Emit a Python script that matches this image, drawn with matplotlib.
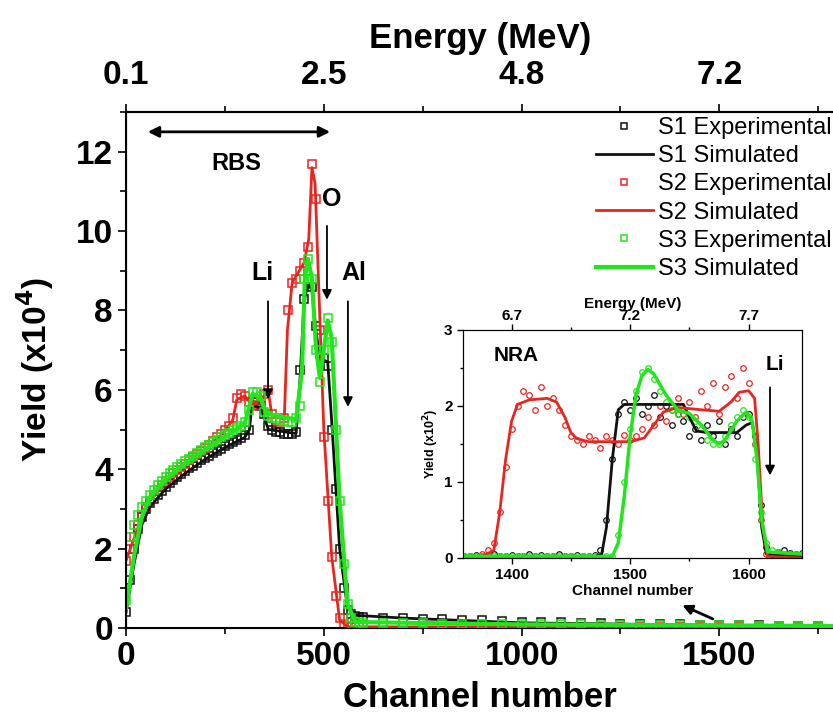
import numpy as np
import matplotlib
matplotlib.use("Agg")
import matplotlib.pyplot as plt
from matplotlib.ticker import MultipleLocator

plt.rcParams['font.family'] = ['Liberation Sans', 'DejaVu Sans']

# ---- main spectrum (RBS), yield in units of 1e4 ----
ch_main = np.concatenate([np.arange(0, 601, 10), np.arange(650, 1801, 50)])

s1_exp = [0.4, 1.2, 2.0, 2.5, 2.8, 3.0, 3.15, 3.25, 3.35, 3.45,
          3.55, 3.65, 3.72, 3.8, 3.88, 3.95, 4.02, 4.08, 4.15, 4.22,
          4.28, 4.34, 4.4, 4.46, 4.52, 4.58, 4.63, 4.68, 4.73, 4.78,
          4.85, 5.0, 5.7, 5.75, 5.6, 5.4, 5.1, 5.0, 4.95, 4.93,
          4.9, 4.88, 4.88, 4.95, 6.5, 8.3, 8.8, 8.6, 7.6, 6.9,
          6.8, 6.6, 5.0, 3.5, 2.0, 1.0, 0.45, 0.35, 0.3, 0.28,
          0.27,
          0.26, 0.25, 0.23, 0.22, 0.2, 0.19, 0.18, 0.16, 0.15, 0.14, 0.13, 0.12,
          0.11, 0.1, 0.1, 0.09, 0.08, 0.08, 0.07, 0.07, 0.06, 0.06, 0.05, 0.05]
s2_exp = [1.7, 2.0, 2.3, 2.6, 2.85, 3.05, 3.2, 3.35, 3.48, 3.6,
          3.7, 3.8, 3.9, 3.98, 4.06, 4.14, 4.22, 4.3, 4.38, 4.46,
          4.54, 4.62, 4.7, 4.8, 4.88, 4.98, 5.1, 5.3, 5.8, 5.9,
          5.85, 5.7, 5.6, 5.62, 5.7, 5.9, 6.0, 5.4, 5.25, 5.2,
          5.3, 8.0, 8.7, 8.8, 9.0, 9.2, 9.6, 11.7, 10.8, 7.5,
          4.8, 3.2, 1.8, 0.8, 0.25, 0.1, 0.05, 0.03, 0.03, 0.02,
          0.02,
          0.02, 0.02, 0.02, 0.02, 0.02, 0.02, 0.02, 0.02, 0.02, 0.02, 0.02, 0.02,
          0.02, 0.02, 0.02, 0.02, 0.02, 0.02, 0.02, 0.02, 0.02, 0.02, 0.02, 0.02]
s3_exp = [0.7, 2.3, 2.6, 2.85, 3.05, 3.2, 3.35, 3.48, 3.6, 3.7,
          3.8, 3.9, 3.98, 4.06, 4.13, 4.2, 4.27, 4.34, 4.41, 4.48,
          4.55, 4.62, 4.68, 4.74, 4.8, 4.86, 4.92, 4.98, 5.04, 5.1,
          5.2, 5.5, 5.95, 5.95, 5.85, 5.45, 5.35, 5.3, 5.28, 5.25,
          5.22, 5.2, 5.2, 5.3, 5.6, 8.8, 9.3, 8.8, 7.0, 6.2,
          7.0, 7.8, 7.2, 5.0, 3.2, 1.6, 0.6, 0.25, 0.15, 0.14,
          0.13,
          0.13, 0.12, 0.12, 0.11, 0.11, 0.1, 0.1, 0.1, 0.09, 0.09, 0.09, 0.08,
          0.08, 0.08, 0.08, 0.07, 0.07, 0.07, 0.07, 0.06, 0.06, 0.06, 0.06, 0.06]

s1_sim_ch = [0, 20, 40, 60, 100, 150, 200, 250, 300, 312, 318, 340, 360, 430, 440, 450,
             460, 470, 480, 490, 510, 520, 540, 560, 580, 700, 1000, 1400, 1800]
s1_sim = [0.4, 1.6, 2.6, 3.05, 3.5, 3.9, 4.25, 4.55, 4.8, 5.0, 5.6, 5.55, 5.0, 4.9, 6.3, 8.2,
          8.7, 8.5, 7.5, 6.8, 6.7, 5.2, 2.0, 0.5, 0.32, 0.25, 0.13, 0.08, 0.04]
s2_sim_ch = [0, 20, 40, 60, 100, 150, 200, 250, 270, 280, 300, 320, 350, 360, 368, 400, 408,
             420, 450, 462, 470, 478, 490, 500, 520, 540, 560, 1800]
s2_sim = [1.7, 2.25, 2.8, 3.2, 3.65, 4.1, 4.5, 4.95, 5.25, 5.75, 5.85, 5.6, 5.85, 5.95, 5.4,
          5.25, 7.5, 8.7, 9.2, 9.8, 11.6, 11.2, 7.8, 5.0, 1.8, 0.2, 0.03, 0.02]
s3_sim_ch = [0, 20, 40, 60, 100, 150, 200, 250, 300, 312, 320, 340, 355, 430, 445, 452, 460,
             470, 480, 490, 500, 510, 520, 540, 560, 580, 1000, 1800]
s3_sim = [0.5, 1.8, 2.8, 3.3, 3.75, 4.15, 4.5, 4.82, 5.15, 5.6, 5.9, 5.8, 5.4, 5.25, 6.5, 8.8,
          9.3, 8.8, 7.1, 6.3, 7.0, 7.75, 7.3, 3.2, 0.6, 0.15, 0.09, 0.05]

top_ticks = [0, 500, 1000, 1500]
top_labels = ['0.1', '2.5', '4.8', '7.2']

# ---- inset (NRA), yield in units of 1e2 ----
ch_nra = np.arange(1360, 1646, 5)
s1_nra = [0.03, 0.02, 0.04, 0.02, 0.03, 0.05, 0.02, 0.03, 0.04, 0.02,
          0.03, 0.05, 0.02, 0.04, 0.03, 0.02, 0.05, 0.03, 0.02, 0.04,
          0.03, 0.02, 0.04, 0.1, 0.5, 1.3, 1.9, 2.05, 1.95, 2.1,
          1.9, 2.0, 2.15, 1.85, 2.0, 1.75, 1.9, 1.8, 1.6, 1.7,
          1.55, 1.75, 1.6, 1.8, 1.5, 1.7, 1.6, 1.85, 1.9, 1.6,
          0.7, 0.15, 0.05, 0.08, 0.1, 0.06, 0.05, 0.07]
s2_nra = [0.0, 0.02, 0.03, 0.05, 0.1, 0.2, 0.6, 1.2, 1.7, 2.0,
          2.2, 2.15, 1.95, 2.25, 2.0, 2.1, 1.95, 1.75, 1.6, 1.55,
          1.5, 1.6, 1.55, 1.45, 1.6, 1.55, 1.5, 1.62, 1.55, 1.6,
          1.7, 1.85, 1.75, 2.0, 1.8, 1.95, 2.1, 1.9, 2.05, 1.85,
          2.2, 2.0, 2.3, 1.9, 2.25, 2.4, 2.1, 2.5, 2.3, 1.5,
          0.5, 0.05, 0.02, 0.03, 0.02, 0.05, 0.04, 0.03]
s3_nra = [0.02, 0.03, 0.02, 0.02, 0.03, 0.02, 0.02, 0.03, 0.02, 0.02,
          0.03, 0.02, 0.02, 0.03, 0.02, 0.02, 0.03, 0.02, 0.02, 0.03,
          0.02, 0.02, 0.03, 0.02, 0.02, 0.02, 0.3, 1.0, 1.7, 2.2,
          2.45, 2.5, 2.35, 2.2, 2.05, 1.95, 1.9, 1.95, 1.85, 1.8,
          1.7, 1.55, 1.5, 1.5, 1.6, 1.75, 1.85, 1.95, 1.85, 1.3,
          0.6, 0.2, 0.1, 0.08, 0.05, 0.05, 0.05, 0.05]

s1_nra_sim_ch = [1360, 1470, 1476, 1480, 1485, 1490, 1495, 1545, 1550, 1556, 1565, 1590,
                 1598, 1603, 1607, 1611, 1615, 1645]
s1_nra_sim = [0.02, 0.02, 0.05, 0.4, 1.3, 1.95, 2.02, 2.02, 1.85, 1.67, 1.65, 1.65,
              1.75, 1.78, 1.4, 0.4, 0.05, 0.02]
s2_nra_sim_ch = [1360, 1375, 1385, 1390, 1395, 1400, 1405, 1415, 1430, 1438, 1445, 1450,
                 1455, 1465, 1500, 1512, 1520, 1528, 1540, 1560, 1575, 1585, 1592, 1600,
                 1605, 1608, 1612, 1616, 1645]
s2_nra_sim = [0.0, 0.02, 0.1, 0.6, 1.3, 1.8, 2.02, 2.08, 2.1, 2.05, 1.85, 1.65,
              1.57, 1.53, 1.53, 1.58, 1.75, 1.92, 1.98, 1.95, 1.93, 2.05, 2.18, 2.2,
              2.1, 1.5, 0.4, 0.02, 0.0]
s3_nra_sim_ch = [1360, 1485, 1490, 1495, 1500, 1505, 1510, 1515, 1520, 1530, 1540, 1550,
                 1560, 1570, 1575, 1580, 1590, 1598, 1603, 1607, 1611, 1616, 1645]
s3_nra_sim = [0.02, 0.02, 0.2, 0.8, 1.6, 2.15, 2.4, 2.48, 2.42, 2.15, 1.95, 1.9,
              1.75, 1.55, 1.5, 1.55, 1.8, 1.92, 1.8, 1.3, 0.5, 0.08, 0.05]

nra_top_ticks = [1400, 1500, 1600]
nra_top_labels = ['6.7', '7.2', '7.7']

BLACK, RED, GREEN = '#111111', '#e8251f', '#22e61c'

fig = plt.figure(figsize=(8.33, 7.24), dpi=100)
ax = fig.add_axes([0.1513, 0.1326, 0.849, 0.7127])

mk = dict(marker='s', ls='none', mfc='none', ms=6, mew=1.1)
ax.plot(ch_main, s1_exp, mec=BLACK, label='S1 Experimental', zorder=2, **mk)
ax.plot(s1_sim_ch, s1_sim, color=BLACK, lw=2, label='S1 Simulated', zorder=3)
ax.plot(ch_main, s2_exp, mec=RED, label='S2 Experimental', zorder=2, **mk)
ax.plot(s2_sim_ch, s2_sim, color=RED, lw=2, label='S2 Simulated', zorder=3)
ax.plot(ch_main, s3_exp, mec=GREEN, label='S3 Experimental', zorder=4, **mk)
ax.plot(s3_sim_ch, s3_sim, color=GREEN, lw=3, label='S3 Simulated', zorder=5)

ax.set_xlim(0, 1788)
ax.set_ylim(0, 13)
ax.xaxis.set_major_locator(MultipleLocator(500))
ax.xaxis.set_minor_locator(MultipleLocator(250))
ax.yaxis.set_major_locator(MultipleLocator(2))
ax.yaxis.set_minor_locator(MultipleLocator(1))
ax.tick_params(which='major', length=6, width=1.2, direction='out', labelsize=24)
ax.tick_params(which='minor', length=4, width=1.2, direction='out')
for lab in ax.get_xticklabels() + ax.get_yticklabels():
    lab.set_fontweight('bold')
ax.spines['right'].set_visible(False)
for s in ax.spines.values():
    s.set_linewidth(1.5)
ax.set_xlabel('Channel number', fontsize=25, fontweight='bold', labelpad=6)
ax.set_ylabel('Yield (x10$^\\mathbf{4}$)', fontsize=24, fontweight='bold', labelpad=14)

top = ax.twiny()
top.set_xlim(ax.get_xlim())
top.set_xticks(top_ticks)
top.set_xticklabels(top_labels)
top.xaxis.set_minor_locator(MultipleLocator(250))
top.tick_params(which='major', length=6, width=1.2, direction='out', labelsize=24, pad=9)
top.tick_params(which='minor', length=4, width=1.2, direction='out')
for lab in top.get_xticklabels():
    lab.set_fontweight('bold')
top.spines['right'].set_visible(False)
top.spines['top'].set_linewidth(1.5)
top.set_xlabel('Energy (MeV)', fontsize=25, fontweight='bold', labelpad=9)

# annotations
arrow = dict(arrowstyle='-|>', color='black', lw=1.3, mutation_scale=14)
ax.annotate('', xy=(48, 12.5), xytext=(523, 12.5),
            arrowprops=dict(arrowstyle='<|-|>', color='black', lw=2, mutation_scale=16))
ax.text(280, 11.7, 'RBS', fontsize=17, fontweight='bold', ha='center', va='center')
ax.annotate('', xy=(359, 5.7), xytext=(359, 8.3), arrowprops=arrow)
ax.text(345, 8.95, 'Li', fontsize=18, fontweight='bold', ha='center', va='center')
ax.annotate('', xy=(508, 8.2), xytext=(508, 10.2), arrowprops=arrow)
ax.text(520, 10.8, 'O', fontsize=18, fontweight='bold', ha='center', va='center')
ax.annotate('', xy=(561, 5.5), xytext=(561, 8.3), arrowprops=arrow)
ax.text(577, 8.95, 'Al', fontsize=18, fontweight='bold', ha='center', va='center')
ax.annotate('', xy=(1400, 0.6), xytext=(1490, 0.2),
            arrowprops=dict(arrowstyle='-|>', color='black', lw=2, mutation_scale=14))

leg = ax.legend(loc='upper right', bbox_to_anchor=(0.997, 0.99), frameon=False,
                fontsize=17, handlelength=2.4, handletextpad=0.2, labelspacing=0.26,
                borderaxespad=0.0, borderpad=0.0, markerscale=0.8)

# ---- inset ----
ins = fig.add_axes([0.5558, 0.2293, 0.407, 0.315])
mk2 = dict(marker='o', ls='none', mfc='none', ms=4, mew=0.9)
ins.plot(ch_nra, s1_nra, mec=BLACK, **mk2)
ins.plot(ch_nra, s2_nra, mec=RED, **mk2)
ins.plot(ch_nra, s3_nra, mec=GREEN, **mk2)
ins.plot(s1_nra_sim_ch, s1_nra_sim, color=BLACK, lw=2)
ins.plot(s2_nra_sim_ch, s2_nra_sim, color=RED, lw=2)
ins.plot(s3_nra_sim_ch, s3_nra_sim, color=GREEN, lw=2.5)
ins.set_xlim(1359, 1645)
ins.set_ylim(0, 3)
ins.xaxis.set_major_locator(MultipleLocator(100))
ins.xaxis.set_minor_locator(MultipleLocator(50))
ins.yaxis.set_major_locator(MultipleLocator(1))
ins.yaxis.set_minor_locator(MultipleLocator(0.5))
ins.tick_params(which='major', length=4, width=1, direction='out', labelsize=11)
ins.tick_params(which='minor', length=2.5, width=1, direction='out')
for lab in ins.get_xticklabels() + ins.get_yticklabels():
    lab.set_fontweight('bold')
ins.set_xlabel('Channel number', fontsize=11, fontweight='bold', labelpad=1)
ins.set_ylabel('Yield (x10$^\\mathbf{2}$)', fontsize=9, fontweight='bold', labelpad=2)
ins.text(1404, 2.67, 'NRA', fontsize=15, fontweight='bold', ha='center', va='center')
ins.text(1622, 2.55, 'Li', fontsize=15, fontweight='bold', ha='center', va='center')
ins.annotate('', xy=(1618, 1.05), xytext=(1618, 2.28), arrowprops=arrow)

itop = ins.twiny()
itop.set_xlim(ins.get_xlim())
itop.set_xticks(nra_top_ticks)
itop.set_xticklabels(nra_top_labels)
itop.xaxis.set_minor_locator(MultipleLocator(50))
itop.tick_params(which='major', length=4, width=1, direction='out', labelsize=11, pad=1)
itop.tick_params(which='minor', length=2.5, width=1, direction='out')
for lab in itop.get_xticklabels():
    lab.set_fontweight('bold')
itop.set_xlabel('Energy (MeV)', fontsize=11, fontweight='bold', labelpad=1)

fig.savefig('out.png', dpi=100)
